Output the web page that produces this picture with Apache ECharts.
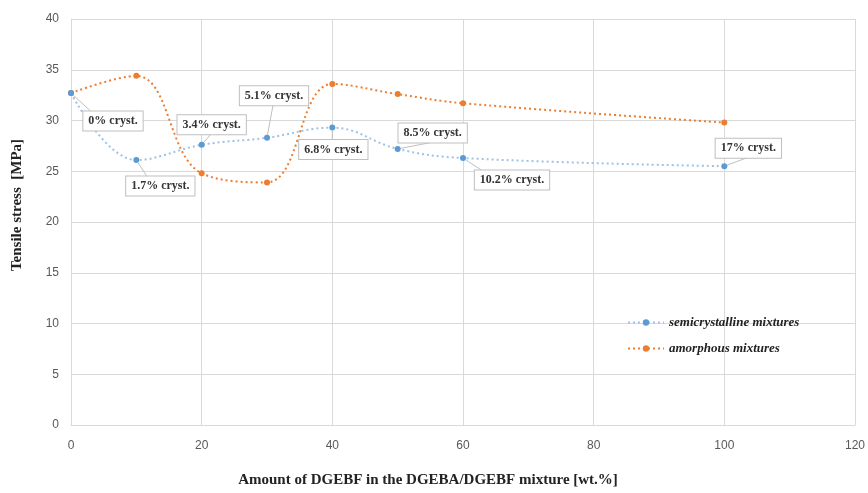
<!DOCTYPE html>
<html>
<head>
<meta charset="utf-8">
<style>
  html, body { margin: 0; padding: 0; background: #fff; }
  #chart { width: 868px; height: 493px; }
</style>
<script src="https://cdn.jsdelivr.net/npm/echarts@6/dist/echarts.min.js"></script>
</head>
<body>
<div id="chart"></div>
<script>
// wt.% of DGEBF
const dgebfAmount = [0, 10, 20, 30, 40, 50, 60, 100];
// tensile stress [MPa]
const semicrystalline = [32.7, 26.1, 27.6, 28.3, 29.3, 27.2, 26.3, 25.5];
const amorphous = [32.7, 34.4, 24.8, 23.9, 33.6, 32.6, 31.7, 29.8];
const crystLabels = ["0% cryst.", "1.7% cryst.", "3.4% cryst.", "5.1% cryst.", "6.8% cryst.", "8.5% cryst.", "10.2% cryst.", "17% cryst."];

// where each callout box sits relative to its point
const calloutOffsets = [[42, 28], [24, 26], [10, -20], [7, -42], [1, 22], [35, -16], [49, 22], [24, -18]];

const serif = "'Liberation Serif', 'DejaVu Serif', serif";
const sans = "'Liberation Sans', Arial, sans-serif";

const chart = echarts.init(document.getElementById("chart"), null, { renderer: "canvas" });

chart.setOption({
  animation: false,
  color: ["#5b9bd5", "#ed7d31"],
  grid: { left: 71, right: 13, top: 19, bottom: 63 },
  legend: {
    orient: "vertical",
    left: 622,
    top: 311,
    itemGap: 13,
    itemWidth: 36,
    itemHeight: 8,
    textStyle: { fontFamily: serif, fontStyle: "italic", fontWeight: "bold", fontSize: 13, color: "#222" },
    data: ["semicrystalline mixtures", "amorphous mixtures"],
  },
  xAxis: {
    type: "value",
    min: 0,
    max: 120,
    interval: 20,
    name: "Amount of DGEBF in the DGEBA/DGEBF mixture [wt.%]",
    nameLocation: "middle",
    nameGap: 48,
    nameTextStyle: { fontFamily: serif, fontWeight: "bold", fontSize: 15, color: "#222", padding: [0, 70, 0, 0] },
    axisLine: { lineStyle: { color: "#d9d9d9" } },
    axisTick: { show: false },
    axisLabel: { fontFamily: sans, fontSize: 12, color: "#595959", margin: 15 },
    splitLine: { lineStyle: { color: "#d9d9d9" } },
  },
  yAxis: {
    type: "value",
    min: 0,
    max: 40,
    interval: 5,
    name: "Tensile stress  [MPa]",
    nameLocation: "middle",
    nameGap: 46,
    nameTextStyle: { fontFamily: serif, fontWeight: "bold", fontSize: 15, color: "#222", padding: [0, 0, 0, 34] },
    axisLine: { show: true, lineStyle: { color: "#d9d9d9" } },
    axisTick: { show: false },
    axisLabel: { fontFamily: sans, fontSize: 12, color: "#595959", margin: 12 },
    splitLine: { lineStyle: { color: "#d9d9d9" } },
  },
  series: [
    {
      name: "semicrystalline mixtures",
      type: "line",
      smooth: 0.4,
      symbol: "circle",
      symbolSize: 6,
      z: 3,
      lineStyle: { width: 2, type: [2, 3], color: "#9dc3e6" },
      itemStyle: { color: "#5b9bd5" },
      data: dgebfAmount.map((x, i) => ({
        value: [x, semicrystalline[i]],
        label: {
          show: true,
          formatter: crystLabels[i],
          position: "inside",
          offset: calloutOffsets[i],
          fontFamily: serif,
          fontWeight: "bold",
          fontSize: 12,
          color: "#333",
          backgroundColor: "#fff",
          borderColor: "#bfbfbf",
          borderWidth: 1,
          padding: [4, 5, 3, 5],
        },
      })),
      labelLine: { show: true, lineStyle: { color: "#bfbfbf", width: 1 } },
    },
    {
      name: "amorphous mixtures",
      type: "line",
      smooth: 0.4,
      symbol: "circle",
      symbolSize: 6,
      z: 2,
      lineStyle: { width: 2, type: [2, 3], color: "#ed7d31" },
      itemStyle: { color: "#ed7d31" },
      data: dgebfAmount.map((x, i) => [x, amorphous[i]]),
    },
  ],
});
</script>
</body>
</html>
